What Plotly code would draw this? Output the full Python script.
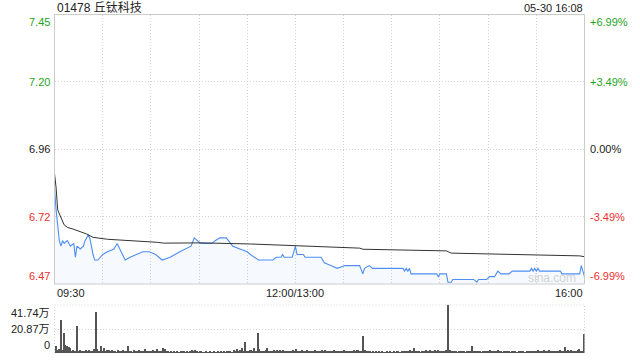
import plotly.graph_objects as go

# ---------------- data ----------------
title_text = "01478 丘钛科技"
stamp_text = "05-30 16:08"
prev_close = 6.96
pct_levels = [-0.0699, -0.03495, 0.0, 0.03495, 0.0699]
left_labels = ["6.47", "6.72", "6.96", "7.20", "7.45"]
right_labels = ["-6.99%", "-3.49%", "0.00%", "+3.49%", "+6.99%"]

# minutes since 09:30 (lunch break removed; 12:00/13:00 = 150, 16:00 = 330)
time_tick_minutes = [0, 150, 330]
time_tick_labels = ["09:30", "12:00/13:00", "16:00"]
grid_minutes = [30, 60, 90, 120, 150, 180, 210, 240, 270, 300]

price_minutes = [0, 1, 3, 4, 5, 6, 8, 10, 12, 13, 14, 16, 18, 19, 21, 22, 24, 25, 27, 30,
                 33, 37, 39, 42, 44, 47, 51, 55, 59, 63, 67, 72, 78, 85, 87, 91, 98, 100, 103, 107,
                 111, 115, 120, 122, 127, 136, 138, 141, 142, 143, 148, 150, 151, 155, 156, 166, 168, 172, 176, 181,
                 190, 192, 193, 196, 198, 217, 218, 219, 220, 221, 222, 238, 239, 240, 244, 245, 247, 248, 261, 263,
                 264, 269, 271, 274, 276, 278, 283, 285, 296, 297, 298, 299, 300, 301, 302, 315, 316, 327, 328, 330]
price_values = [6.82, 6.74, 6.63, 6.61, 6.63, 6.62, 6.63, 6.61, 6.62, 6.57, 6.61, 6.60, 6.61, 6.63, 6.65, 6.64, 6.58, 6.56, 6.56, 6.58,
                6.59, 6.60, 6.62, 6.58, 6.56, 6.57, 6.58, 6.59, 6.59, 6.58, 6.56, 6.57, 6.59, 6.61, 6.64, 6.62, 6.62, 6.63, 6.64, 6.64,
                6.61, 6.60, 6.59, 6.58, 6.56, 6.56, 6.57, 6.57, 6.58, 6.57, 6.57, 6.61, 6.58, 6.58, 6.57, 6.57, 6.55, 6.54, 6.53, 6.54,
                6.54, 6.51, 6.53, 6.54, 6.53, 6.53, 6.52, 6.53, 6.52, 6.53, 6.51, 6.51, 6.50, 6.51, 6.51, 6.48, 6.48, 6.49, 6.49, 6.48,
                6.49, 6.49, 6.50, 6.50, 6.52, 6.51, 6.51, 6.52, 6.52, 6.53, 6.52, 6.53, 6.52, 6.53, 6.52, 6.52, 6.51, 6.51, 6.54, 6.50]

avg_minutes = [0, 1, 2, 4, 6, 8, 12, 20, 24, 33, 49, 64, 68, 91, 122, 150, 190, 192, 236, 244, 247, 283, 327, 330]
avg_values = [6.873, 6.820, 6.741, 6.711, 6.687, 6.678, 6.671, 6.654, 6.642, 6.635, 6.630, 6.624, 6.621, 6.622,
              6.618, 6.612, 6.603, 6.599, 6.594, 6.593, 6.585, 6.581, 6.575, 6.572]

# volume per minute, in 万 shares (minute 0 .. 330)
volume_wan = [
    5.8, 3.0, 3.2, 28.8, 2.5, 17.0, 7.2, 6.2, 5.0, 4.2,
    2.0, 3.0, 1.5, 23.6, 1.2, 2.5, 1.0, 1.8, 1.2, 2.5,
    1.0, 3.0, 2.0, 1.5, 3.5, 36.0, 3.5, 1.5, 6.3, 2.0,
    4.3, 1.2, 3.0, 2.2, 1.0, 2.5, 1.5, 2.0, 0.8, 3.0,
    2.0, 1.2, 2.8, 1.5, 2.0, 5.8, 1.0, 1.5, 0.8, 2.5,
    1.8, 1.0, 3.0, 1.5, 2.0, 1.0, 3.2, 1.2, 2.0, 1.5,
    1.0, 2.5, 1.2, 3.5, 1.0, 2.0, 1.5, 4.0, 3.5, 1.2,
    1.0, 0.8, 1.5, 0.6, 1.2, 0.8, 1.0, 0.5, 1.8, 1.0,
    2.0, 0.8, 1.0, 0.6, 1.5, 2.2, 1.0, 2.5, 1.2, 0.8,
    1.0, 1.5, 0.6, 0.8, 1.0, 0.5, 1.2, 0.8, 0.6, 1.0,
    0.8, 1.2, 0.5, 1.5, 0.8, 1.0, 0.6, 1.2, 2.0, 1.0,
    0.8, 2.5, 1.2, 3.2, 1.0, 2.5, 4.0, 1.5, 9.2, 2.0,
    1.5, 3.0, 2.5, 1.2, 4.3, 2.0, 17.0, 3.5, 1.5, 2.0,
    1.2, 2.5, 4.3, 1.5, 2.0, 1.0, 3.0, 1.5, 2.5, 1.2,
    2.2, 1.0, 3.0, 1.5, 1.0, 2.0, 1.2, 1.5, 2.8, 1.0,
    3.5, 1.5, 2.0, 1.0, 2.5, 1.2, 1.5, 3.0, 1.0, 2.0,
    1.2, 1.5, 2.5, 1.0, 1.8, 1.2, 3.0, 1.5, 2.5, 1.0,
    2.0, 1.2, 1.5, 1.0, 2.2, 1.5, 1.0, 2.0, 1.2, 1.5,
    2.5, 1.0, 1.8, 1.2, 2.0, 1.5, 2.5, 1.0, 2.2, 3.0,
    1.5, 2.0, 15.0, 2.5, 1.2, 1.0, 1.5, 0.8, 1.2, 0.6,
    1.0, 0.8, 1.2, 0.5, 1.0, 0.8, 0.6, 1.2, 0.8, 1.0,
    0.6, 1.2, 0.8, 1.5, 1.0, 0.6, 1.2, 1.5, 2.0, 1.0,
    1.5, 2.5, 1.2, 1.0, 4.3, 1.5, 1.0, 2.0, 0.8, 1.5,
    1.0, 2.5, 1.2, 1.0, 3.0, 1.5, 1.0, 2.2, 1.2, 3.0,
    1.5, 2.0, 1.0, 1.5, 2.5, 41.74, 2.5, 1.5, 2.0, 1.0,
    1.5, 0.8, 2.0, 1.2, 1.0, 1.5, 0.8, 1.2, 2.0, 1.0,
    6.3, 1.5, 1.0, 2.0, 1.2, 1.5, 0.8, 1.2, 2.0, 1.0,
    1.5, 2.5, 1.2, 1.0, 1.8, 1.2, 2.5, 1.0, 1.5, 0.8,
    1.2, 1.0, 1.5, 2.0, 0.8, 1.2, 1.0, 1.5, 0.8, 1.2,
    2.0, 1.0, 1.5, 0.8, 1.2, 1.0, 1.8, 1.2, 2.0, 1.0,
    1.5, 2.5, 1.2, 1.0, 1.5, 2.2, 1.0, 1.8, 2.5, 1.2,
    1.0, 1.5, 2.0, 1.2, 1.0, 2.5, 1.5, 1.0, 5.2, 1.5,
    2.5, 1.2, 3.0, 1.5, 2.0, 1.2, 2.5, 3.5, 2.0, 2.0,
    16.7,
]
vol_max = 41.74
vol_tick_values = [0, 20.87, 41.74]
vol_tick_labels = ["0", "20.87万", "41.74万"]

# ---------------- style ----------------
W, H = 640, 360
RED = "#ee2f2f"
GREEN = "#1ea51e"
BLACK = "#222222"
label_colors = [RED, RED, BLACK, GREEN, GREEN]
FONT = "Liberation Sans, Arial, Noto Sans CJK SC, sans-serif"
GRID = "#d2d2d2"
BORDER = "#cccccc"
DOT = "1px,2px"

def px_x(p):
    return p / W

def px_y(p):
    return 1 - p / H

x0, x1 = px_x(54.5), px_x(584.5)
main_top, main_bot = px_y(14.5), px_y(284)
vol_top, vol_bot = px_y(305), px_y(353)

levels = [prev_close * (1 + p) for p in pct_levels]
y_lo, y_hi = levels[0], levels[-1]
minutes = list(range(len(volume_wan)))

fig = go.Figure()
fig.add_trace(go.Scatter(
    x=price_minutes, y=price_values, mode="lines",
    line=dict(color="#4f8ef2", width=1.1),
    fill="tozeroy", fillcolor="rgba(79,142,242,0.05)",
    xaxis="x", yaxis="y", hoverinfo="skip", showlegend=False))
fig.add_trace(go.Scatter(
    x=avg_minutes, y=avg_values, mode="lines",
    line=dict(color="#333333", width=1),
    xaxis="x", yaxis="y", hoverinfo="skip", showlegend=False))
fig.add_trace(go.Bar(
    x=minutes, y=volume_wan, width=0.65,
    marker=dict(color="#555555", line=dict(width=0)),
    xaxis="x2", yaxis="y2", hoverinfo="skip", showlegend=False))

fig.update_layout(
    width=W, height=H,
    margin=dict(l=0, r=0, t=0, b=0),
    paper_bgcolor="white", plot_bgcolor="white",
    font=dict(family=FONT, size=11, color=BLACK),
    bargap=0,
    xaxis=dict(domain=[x0, x1], range=[0, 330], tickvals=grid_minutes,
               showgrid=True, gridcolor=GRID, griddash=DOT, gridwidth=1,
               showticklabels=False, zeroline=False, showline=False, fixedrange=True),
    yaxis=dict(domain=[main_bot, main_top], range=[y_lo, y_hi], tickvals=levels[1:4],
               showgrid=True, gridcolor=GRID, griddash=DOT, gridwidth=1,
               showticklabels=False, zeroline=False, showline=False, fixedrange=True),
    xaxis2=dict(domain=[x0, x1], range=[-0.5, 330.5], anchor="y2",
                showgrid=False, showticklabels=False, zeroline=False, showline=False),
    yaxis2=dict(domain=[vol_bot, vol_top], range=[0, vol_max], tickvals=[vol_tick_values[1]],
                anchor="x2", showgrid=True, gridcolor=GRID, griddash=DOT,
                showticklabels=False, zeroline=False, showline=False),
)

shapes = [
    dict(type="rect", xref="paper", yref="paper", x0=x0, x1=x1, y0=main_bot, y1=main_top,
         line=dict(color=BORDER, width=1), layer="above"),
    dict(type="rect", xref="paper", yref="paper", x0=x0, x1=x1, y0=vol_bot, y1=vol_top,
         line=dict(color=GRID, width=1, dash=DOT), layer="below"),
]
fig.update_layout(shapes=shapes)

ann = []
ann.append(dict(text=title_text, x=px_x(55), y=px_y(7.5), xref="paper", yref="paper",
                xanchor="left", yanchor="middle", showarrow=False,
                font=dict(size=12, color=BLACK)))
ann.append(dict(text=stamp_text, x=x1, y=px_y(7.5), xref="paper", yref="paper",
                xanchor="right", yanchor="middle", showarrow=False,
                font=dict(size=11, color=BLACK)))
for i, (lv, ll, rl, col) in enumerate(zip(levels, left_labels, right_labels, label_colors)):
    if i == 0:
        ya = "bottom"
    elif i == len(levels) - 1:
        ya = "top"
    else:
        ya = "middle"
    ann.append(dict(text=ll, x=px_x(52), y=lv, xref="paper", yref="y",
                    xanchor="right", yanchor=ya, showarrow=False, font=dict(size=11, color=col)))
    ann.append(dict(text=rl, x=px_x(587.5), y=lv, xref="paper", yref="y",
                    xanchor="left", yanchor=ya, showarrow=False, font=dict(size=11, color=col)))
for m, lab, xa in zip(time_tick_minutes, time_tick_labels, ["left", "center", "right"]):
    ann.append(dict(text=lab, x=m, y=px_y(293), xref="x", yref="paper",
                    xanchor=xa, yanchor="middle", showarrow=False, font=dict(size=11, color=BLACK)))
for v, lab, ya in zip(vol_tick_values, vol_tick_labels, ["bottom", "middle", "top"]):
    ann.append(dict(text=lab, x=px_x(52), y=v, xref="paper", yref="y2",
                    xanchor="right", yanchor=ya, showarrow=False, font=dict(size=11, color=BLACK)))
ann.append(dict(text="sina.com", x=px_x(552), y=px_y(278), xref="paper", yref="paper",
                xanchor="center", yanchor="middle", showarrow=False,
                font=dict(size=12, color="#d2d2d2")))
fig.update_layout(annotations=ann)

fig.write_html("out.html", config={"displayModeBar": False},
               post_script="document.body.style.margin='0';")
